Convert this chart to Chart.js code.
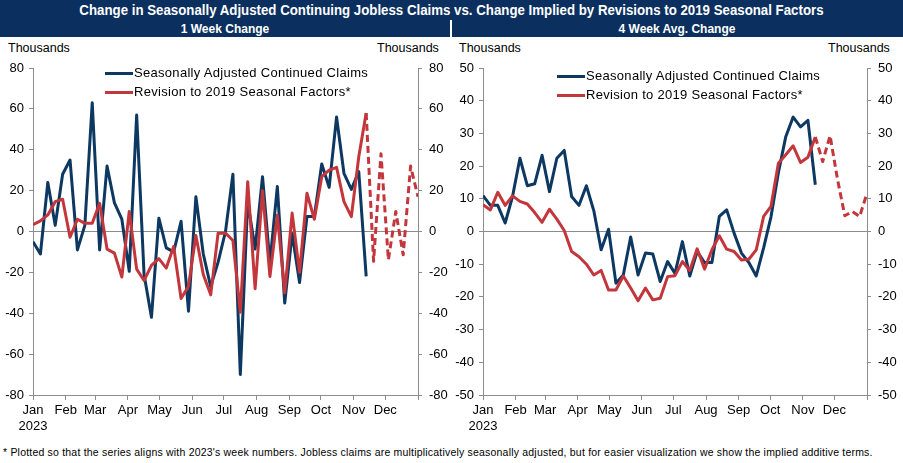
<!DOCTYPE html>
<html>
<head>
<meta charset="utf-8">
<script src="https://cdn.jsdelivr.net/npm/chart.js@4.4.1/dist/chart.umd.min.js"></script>
<style>
  body { margin: 0; width: 903px; height: 463px; overflow: hidden; background: #fff; position: relative;
         font-family: "Liberation Sans", Arial, sans-serif; color: #000; }
  .banner { position: absolute; left: 0; top: 0; width: 903px; height: 37px; background: #0b2f5e; color: #fff;
            font-family: "Liberation Sans Narrow", "Arial Narrow", "Liberation Sans", sans-serif; font-weight: bold; }
  .title { position: absolute; left: 0; top: 2px; width: 903px; text-align: center; font-size: 14.5px;
           transform: scaleX(0.915); transform-origin: 451px 0; white-space: nowrap; }
  .sub { position: absolute; top: 22px; width: 450px; text-align: center; font-size: 12px; }
  .divider { position: absolute; left: 450px; top: 20px; width: 2px; height: 17px; background: #fff; }
  .unit { position: absolute; top: 41px; font-size: 12.5px; }
  .wrap { position: absolute; top: 40px; }
  .legend { position: absolute; font-size: 13px; letter-spacing: 0.3px; }
  .legend div { height: 19px; line-height: 19px; white-space: nowrap; }
  .legend span.swatch { display: inline-block; width: 28px; height: 3px; vertical-align: middle; margin-right: 1px; }
  .note { position: absolute; left: 3px; top: 446px; font-size: 10.5px; letter-spacing: 0.2px; white-space: nowrap; }
</style>
</head>
<body>
<div class="banner">
  <div class="title" id="title"></div>
  <div class="sub" id="sub1" style="left:0"></div>
  <div class="sub" id="sub2" style="left:452px"></div>
  <div class="divider"></div>
</div>
<div class="unit" style="left:8px">Thousands</div>
<div class="unit" style="left:377px">Thousands</div>
<div class="unit" style="left:459px">Thousands</div>
<div class="unit" style="left:828px">Thousands</div>
<div class="wrap" style="left:0"><canvas id="c1" width="450" height="405"></canvas></div>
<div class="wrap" style="left:450px"><canvas id="c2" width="453" height="405"></canvas></div>
<div class="legend" id="leg1" style="left:105px;top:63px"></div>
<div class="legend" id="leg2" style="left:557px;top:66px"></div>
<div class="note" id="note"></div>
<script>
const titleText = 'Change in Seasonally Adjusted Continuing Jobless Claims vs. Change Implied by Revisions to 2019 Seasonal Factors';
const panelTitles = ['1 Week Change', '4 Week Avg. Change'];
const noteText = "* Plotted so that the series aligns with 2023's week numbers. Jobless claims are multiplicatively seasonally adjusted, but for easier visualization we show the implied additive terms.";
const seriesNames = ['Seasonally Adjusted Continued Claims', 'Revision to 2019 Seasonal Factors*'];

const weeks = [1,2,3,4,5,6,7,8,9,10,11,12,13,14,15,16,17,18,19,20,21,22,23,24,25,26,27,
               28,29,30,31,32,33,34,35,36,37,38,39,40,41,42,43,44,45,46,47,48,49,50,51,52,53];
const monthLabels = ['Jan','Feb','Mar','Apr','May','Jun','Jul','Aug','Sep','Oct','Nov','Dec'];
const monthStartDays = [0,31,59,90,120,151,181,212,243,273,304,334,365];
const yearLabel = '2023';

// 1 week change, thousands
const claims1w = [-5,-11,24,3,28,35,-9,3,63,-9,32,14,6,-19.5,57,-21,-42,6.5,-8,-10,5,-39,17,-11,-27,-15,0,
                  28,-70,14.6,-8.6,26.8,-15.4,22,-35,-1,-25,7.3,7.3,33,21.6,56,28.5,20.6,29.3,-22];
const revision1w = [3.3,5.2,8.1,14.6,15.8,-2.8,6,4,4,13.8,-8.6,-10.6,-22.3,9.8,-18.4,-24,-16.6,-13.3,-17.9,-7.3,
                    -32.8,-26.8,-2,-21,-31,-0.8,-0.8,-4.4,-39.5,24.4,-28,20,-22,8,-30,9,-20,18.7,6,26.8,30,31.4,
                    14.6,7.3,36.6,58];
const revision1wAhead = [-14.6,38,-13.8,9.8,-11.4,32,17];
const ticks1w = [-80,-60,-40,-20,0,20,40,60,80];

// 4 week average change, thousands
const claims4w = [11,8,8,2.6,10.7,22.4,14,14.6,23.3,12.2,22.4,24.8,10.7,8,14,6.4,-5.6,0.7,-15.8,-13.3,-1.7,
                  -13.3,-6.6,-6.9,-15.3,-9.2,-12.8,-3.1,-13.6,-6.1,-9.5,-9.5,4.6,6.6,-0.5,-6.6,-9.5,-13.6,-5,4.5,
                  18,29,35,32,34,14.3];
const revision4w = [8.2,6.6,12,8,10.9,9.2,8.4,5.8,2.8,6.8,3.8,0.3,-6.1,-7.7,-10,-13.3,-11.9,-17.9,-17.9,-13.6,
                    -17.3,-21.2,-17.3,-20.9,-20.4,-13.8,-13.5,-9.2,-11.9,-5.3,-11.5,-5.6,-1.3,-5.4,-6.1,-8.7,-8.5,
                    -5.6,4.6,7.7,20.9,23.5,26.2,21.1,22.7,28.9];
const revision4wAhead = [21.4,29.3,16,4.8,6.1,4.6,11.7];
const ticks4w = [-50,-40,-30,-20,-10,0,10,20,30,40,50];

const BLUE = '#0d3862';
const RED = '#c3363b';
const AXIS = '#8c8c8c';

Chart.defaults.font.family = '"Liberation Sans", Arial, sans-serif';
Chart.defaults.font.size = 13;
Chart.defaults.color = '#000';

document.getElementById('title').textContent = titleText;
document.getElementById('sub1').textContent = panelTitles[0];
document.getElementById('sub2').textContent = panelTitles[1];
document.getElementById('note').textContent = noteText;

function legendHtml() {
    return [BLUE, RED].map((c, i) =>
        `<div><span class="swatch" style="background:${c}"></span>${seriesNames[i]}</div>`).join('');
}
document.getElementById('leg1').innerHTML = legendHtml();
document.getElementById('leg2').innerHTML = legendHtml();

function yAxis(position, yTicks, width, onArea) {
    return {
        position,
        min: yTicks[0],
        max: yTicks[yTicks.length - 1],
        afterBuildTicks: s => { s.ticks = yTicks.map(v => ({ value: v })); },
        afterFit: s => { s.width = width; },
        ticks: { padding: position === 'left' ? 5 : 7 },
        border: { color: AXIS },
        grid: {
            drawOnChartArea: onArea,
            color: c => (c.tick && c.tick.value === 0) ? AXIS : 'rgba(0,0,0,0)',
            tickColor: AXIS,
            tickLength: 4,
        },
    };
}

function makeChart(id, claims, revision, ahead, yTicks, leftW, rightW) {
    const n = revision.length - 1;
    new Chart(document.getElementById(id), {
        type: 'line',
        data: {
            labels: weeks,
            datasets: [
                {
                    label: seriesNames[1],
                    data: revision.concat(ahead),
                    borderColor: RED,
                    borderWidth: 3,
                    pointRadius: 0,
                    order: 0,
                    segment: { borderDash: c => c.p0DataIndex >= n ? [7, 4] : undefined },
                },
                {
                    label: seriesNames[0],
                    data: claims,
                    borderColor: BLUE,
                    borderWidth: 3,
                    pointRadius: 0,
                    order: 1,
                },
            ],
        },
        options: {
            responsive: false,
            animation: false,
            layout: { padding: { top: 28 } },
            elements: { line: { tension: 0, borderJoinStyle: 'round' } },
            plugins: { legend: { display: false }, tooltip: { enabled: false } },
            scales: {
                x: {
                    type: 'linear',
                    min: weeks[0],
                    max: weeks[weeks.length - 1],
                    afterBuildTicks: s => {
                        s.ticks = monthStartDays.map(d => ({ value: weeks[0] + d / 365 * (weeks.length - 1) }));
                    },
                    afterFit: s => { s.height = 50; },
                    ticks: {
                        autoSkip: false,
                        maxRotation: 0,
                        padding: 3,
                        callback: (v, i) => i === 0 ? [monthLabels[0], yearLabel] : (monthLabels[i] || ''),
                    },
                    border: { color: AXIS },
                    grid: { drawOnChartArea: false, color: AXIS, tickLength: 5 },
                },
                y: yAxis('left', yTicks, leftW, true),
                y2: yAxis('right', yTicks, rightW, false),
            },
        },
    });
}

makeChart('c1', claims1w, revision1w, revision1wAhead, ticks1w, 33, 32);
makeChart('c2', claims4w, revision4w, revision4wAhead, ticks4w, 33, 36);
</script>
</body>
</html>
